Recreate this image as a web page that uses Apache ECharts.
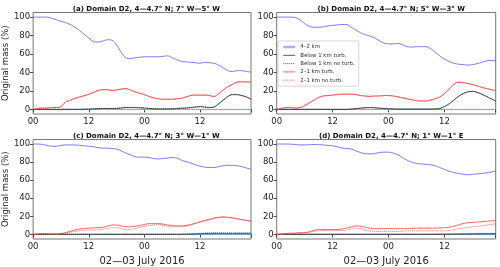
<!DOCTYPE html>
<html><head><meta charset="utf-8">
<script src="https://cdn.jsdelivr.net/npm/echarts@6/dist/echarts.min.js"></script>
<style>html,body{margin:0;padding:0;background:#fff}#c{width:500px;height:267px}</style>
</head><body><div id="c"></div>
<script>
// hours since 00 UTC 2 July 2016
const hours = Array.from({length:48},(_, i)=>i);
const xTicks = [0,12,24,36];
const yTicks = [0,20,40,60,80,100];
const seriesNames = ['4–2 km','Below 1 km turb.','Below 1 km no turb.','2–1 km turb.','2–1 km no turb.'];
const panelTitles = [
  "(a) Domain D2, 4—4.7° N; 7° W—5° W",
  "(b) Domain D2, 4—4.7° N; 5° W—3° W",
  "(c) Domain D2, 4—4.7° N; 3° W—1° W",
  "(d) Domain D2, 4—4.7° N; 1° W—1° E"
];
// panel a
const aUpper = [100,100,100,100,99,97,95.5,94,92,89,85.5,81.5,77.5,73.5,73,74,75.5,75,70,62,56,55,56,56.5,57,57,57,57,57.5,58,56,54,52,51.5,51,50.5,50,51,50.5,50,48,45,42,41,42,42,41,40.5];
const aBelowTurb = [0,0,0,0,0,0,0,0,0,0,0,0.2,0.3,0.5,0.8,1,1,1,1,1.5,2,2,2,1.8,1.5,1,0.7,0.5,0.5,0.5,0.7,1,1.3,1.5,2,2.5,3,2.5,2,2.5,6,10,14,16,16,15,13.5,11];
const aBelowNoTurb = [0,0,0,0,0,0,0,0,0,0,0,0.2,0.3,0.5,0.8,1,1,1,1.2,1.7,2.2,2.2,2,1.8,1.5,1,0.7,0.5,0.5,0.5,0.7,1,1.3,1.5,2,2.5,3,2.5,2,2.5,6,10,14,16,16,15,13.5,11];
const aMidTurb = [0,1,1.5,1.5,2,2,3,8,10,12,13.5,15,16.5,18.5,20.5,21.5,21.5,20.5,21,22,22.5,21,19,17.5,16,14,12.5,11.5,11,11,11,11.5,12,13.5,15,15.5,15.5,15.5,15,14,17,21,24.5,27,29.5,30,29.5,30];
const aMidNoTurb = [0,1,1.5,1.5,2,2,3,7.5,9.5,11.5,13,14.5,16,18,20,21,21,20.5,21,22,22.5,21,19,17.5,16,14,12.5,11.5,11,11,11,11.5,12,13.5,15,15.5,15.5,15.5,15,14,17,21,24.5,27,29.5,30,29.5,30];
// panel b
const bUpper = [100,100,100,100,99.5,97,93,90,89,89,89.5,90.5,91,91.5,92,92,89,86,83,81,79.5,77.5,74.5,72,71,71,71.5,70,68,67.5,68,68,68,66,62,58,54.5,52,50,49,48.5,48,48.5,49.5,51,52.5,53,52.5];
const bBelowTurb = [0,0,0,0,0,0,0,0,0,0,0,0,0,0,0,0,0.3,0.8,1.3,1.8,2,1.8,1.3,1,0.7,0.5,0.3,0.3,0.3,0.3,0.3,0.3,0.3,0.3,0.5,1,3,6,10,14,17,19,19.5,18.5,16.5,14,11.5,9];
const bBelowNoTurb = [0,0,0,0,0,0,0,0,0,0,0,0,0,0,0,0,0.3,0.8,1.3,1.8,2,1.8,1.3,1,0.7,0.5,0.3,0.3,0.3,0.3,0.3,0.3,0.3,0.3,0.5,1,3,6,10,14,17,19,19.5,18.5,16.5,14,11.5,9];
const bMidTurb = [0,1,2,2,1.5,2,4,7,10,13,14.5,15,15.5,16,16.5,16.5,16.5,16,15,14.5,14,14.5,14.5,15,15,14.5,13.5,12.5,11.5,10.5,9.5,9,9,10,11.5,13.5,17,22,27,29.5,29,28,27,25.5,24,22.5,21.5,20.5];
const bMidNoTurb = [0,1,2,2,1.5,2,4,7,10,13,14.5,15,15.5,16,16.5,16.5,16.5,16,15,14.5,14,14.5,14.5,15,15,14.5,13.5,12.5,11.5,10.5,9.5,9,9,10,11.5,13.5,17,22,27,29.5,29,28,27,25.5,24,22.5,21.5,20.5];
// panel c
const cUpper = [100,100,99.5,98.5,97.5,97.5,98.5,99,99,99,98.5,98,97.5,97,96,95.5,95.5,95,94.5,92.5,90,88,86,85.5,85.5,85,84,83.5,84,84.5,85,84.5,82,80.5,79,77,75.5,74.5,74,74,75,76,76.5,76.5,76,75,73.5,72];
const cBelowTurb = [0.2,0.2,0.2,0.2,0.2,0.2,0.2,0.2,0.2,0.2,0.2,0.2,0.2,0.2,0.2,0.2,0.2,0.2,0.2,0.2,0.2,0.2,0.2,0.2,0.2,0.2,0.2,0.2,0.2,0.2,0.2,0.2,0.2,0.3,0.4,0.6,0.8,1,1.1,1.2,1.2,1.2,1.2,1.2,1.3,1.3,1.3,1.3];
const cBelowNoTurb = [0.2,0.2,0.2,0.2,0.2,0.2,0.2,0.2,0.2,0.2,0.2,0.2,0.2,0.2,0.2,0.2,0.2,0.2,0.2,0.2,0.2,0.2,0.2,0.2,0.2,0.2,0.2,0.2,0.2,0.2,0.3,0.3,0.4,0.5,0.7,1,1.3,1.5,1.7,1.8,1.8,1.7,1.6,1.5,1.5,1.4,1.4,1.4];
const cMidTurb = [0,0.5,1,0.8,0.5,0.5,1,2,3.5,5,6,6.5,7,7.3,7.5,8,9,10.5,10.5,9.5,8.5,8.5,9,10,11,12,12,12,11.5,10.5,10,9.5,9.5,10,11,12.5,14,15.5,16.5,18,19,19.5,19,18.5,17.5,16.5,15.5,15];
const cMidNoTurb = [0,0.5,1,0.8,0.5,0.5,0.8,1.5,2.5,3.5,4,4.5,5,5,5,6,6.5,7.5,7.5,6.5,5.5,5.5,6.5,8,9,10,10.5,11,10,9,8.5,8.5,8.5,9,10.5,12,13.5,15,16,17.5,18.5,19,18.5,18,17,16.5,15.5,14.5];
// panel d
const dUpper = [100,100,100,99.8,99.5,99,99,99.3,99.5,99.3,99,98.5,98,97,95.5,95,94.5,92.5,90.5,89.5,89,89.5,90.5,91,91,90,88,85,82,80,78.5,78,77.5,77,76,74,72,70,68.5,67.5,66.5,66,66.5,67,67.5,68,69,70];
const dBelowTurb = [0.2,0.2,0.2,0.2,0.2,0.2,0.2,0.2,0.2,0.2,0.2,0.2,0.2,0.2,0.2,0.2,0.2,0.2,0.2,0.2,0.2,0.2,0.2,0.2,0.2,0.2,0.2,0.2,0.2,0.2,0.2,0.2,0.2,0.2,0.2,0.3,0.3,0.4,0.4,0.5,0.5,0.6,0.6,0.7,0.7,0.8,0.8,0.8];
const dBelowNoTurb = [0.2,0.2,0.2,0.2,0.2,0.2,0.2,0.2,0.2,0.2,0.2,0.2,0.2,0.2,0.2,0.2,0.2,0.2,0.2,0.2,0.2,0.2,0.2,0.2,0.2,0.2,0.2,0.2,0.2,0.2,0.2,0.2,0.2,0.2,0.2,0.3,0.3,0.4,0.5,0.6,0.7,0.8,0.9,1,1,1.1,1.1,1.1];
const dMidTurb = [0,0.5,1,1.5,1.5,2,2,3,4.5,5.5,5.5,5.5,5.5,5.5,6,7,8.5,9.5,9,8,7,6.5,6.5,6.5,6.5,6.5,6.5,6.5,6.5,6.7,7,7,7,7,7,7.3,7.5,8,9,10.5,12,13,13.5,13.8,14,14.5,15,15.5];
const dMidNoTurb = [0,0.5,1,1,1,1.3,1.5,2.3,3.5,4,4.5,4.5,4.5,4.5,4.5,5,6.5,7,6.5,5,4,3.7,3.5,3.5,3.5,3.5,3.5,3.7,4,4,4,4,4,4,4,4,4,4.5,5.5,6.3,7,7.8,8.5,9,9.5,10.3,11,12];
const zeroLine = hours.map(()=>0);

const panels = [
  [aUpper,aBelowTurb,aBelowNoTurb,aMidTurb,aMidNoTurb],
  [bUpper,bBelowTurb,bBelowNoTurb,bMidTurb,bMidNoTurb],
  [cUpper,cBelowTurb,cBelowNoTurb,cMidTurb,cMidNoTurb],
  [dUpper,dBelowTurb,dBelowNoTurb,dMidTurb,dMidNoTurb]
];
const styles = [
  {color:'rgba(100,100,255,0.85)', width:1, type:'solid'},
  {color:'rgba(50,50,50,0.8)', width:1, type:'solid'},
  {color:'rgba(50,50,50,0.8)', width:1, type:'dotted'},
  {color:'rgba(255,60,60,0.8)', width:1, type:'solid'},
  {color:'rgba(255,60,60,0.8)', width:1, type:'dotted'}
];
const legendLine = [
  {width:2.5, color:'rgba(120,120,255,0.6)'},
  {width:1}, {width:1}, {width:1}, {width:1}
];
const FONT = 'DejaVu Sans';
const grids = [
  {left:31.7, top:12.5, width:219.3, height:101.5},
  {left:276.7, top:12.5, width:219, height:101.5},
  {left:31.7, top:139.5, width:219.3, height:101.7},
  {left:276.7, top:139.5, width:219, height:101.7}
];
const option = {
  animation:false,
  backgroundColor:'#fff',
  title: grids.map((g,i)=>({
    text: panelTitles[i], left: g.left + g.width/2, top: i<2 ? 1 : 128, textAlign:'center',
    textStyle:{fontFamily:FONT, fontSize:7, fontWeight:'bold', color:'#111'}
  })),
  legend:{
    left:278, top:41, orient:'vertical', padding:[3,4,3,4],
    itemWidth:12, itemHeight:5, itemGap:2.3,
    backgroundColor:'rgba(255,255,255,0.8)', borderColor:'#ccc', borderWidth:0.8, borderRadius:2,
    textStyle:{fontFamily:FONT, fontSize:5.4, color:'#333', lineHeight:6},
    itemStyle:{color:'transparent', borderWidth:0, opacity:0},
    data: seriesNames.map((n,i)=>({name:n, lineStyle:legendLine[i]}))
  },
  grid: grids.map(g=>Object.assign({show:true, borderColor:'#777', borderWidth:1, backgroundColor:'transparent'}, g)),
  xAxis: grids.map((g,i)=>({
    type:'value', gridIndex:i, min:0, max:47, interval:12,
    axisLine:{show:false}, splitLine:{show:false},
    axisTick:{show:true, length:3, lineStyle:{color:'#444'}},
    axisLabel:{fontFamily:FONT, fontSize:8.5, color:'#222', margin:3, formatter:v=> (v%24===0?'00':'12'),
      customValues: xTicks},
    name: i>=2 ? '02—03 July 2016' : '', nameLocation:'middle', nameGap:17,
    nameTextStyle:{fontFamily:FONT, fontSize:10, color:'#222'}
  })),
  yAxis: grids.map((g,i)=>({
    type:'value', gridIndex:i, min:-5, max:105,
    axisLine:{show:false}, splitLine:{show:false},
    axisTick:{show:true, length:3, lineStyle:{color:'#444'}, customValues: yTicks},
    axisLabel:{fontFamily:FONT, fontSize:8.5, color:'#222', margin:3, customValues: yTicks},
    name: (i%2===0) ? 'Original mass (%)' : '', nameLocation:'middle', nameGap:20, nameRotate:90,
    nameTextStyle:{fontFamily:FONT, fontSize:8.5, color:'#222'}
  })),
  series: []
};
panels.forEach((arrs,pi)=>{
  option.series.push({
    type:'line', xAxisIndex:pi, yAxisIndex:pi, symbol:'none', silent:true,
    data: hours.map((h,k)=>[h, zeroLine[k]]),
    lineStyle:{color:'#6f9fd0', width:1}, z:1
  });
  arrs.forEach((arr,si)=>{
    option.series.push({
      name: seriesNames[si], type:'line', xAxisIndex:pi, yAxisIndex:pi,
      symbol:'none', smooth:0.4, silent:true,
      data: hours.map((h,k)=>[h, arr[k]]),
      lineStyle: styles[si], itemStyle:{color: styles[si].color}, z:2+si
    });
  });
});
const chart = echarts.init(document.getElementById('c'), null, {renderer:'canvas'});
chart.setOption(option);
</script>
</body></html>
